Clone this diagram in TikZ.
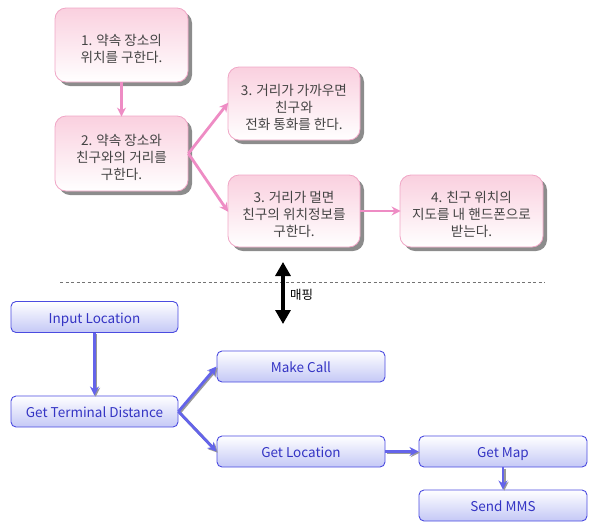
\documentclass[tikz,border=0pt]{standalone}
\usepackage{fontspec}
\setmainfont{Noto Sans CJK KR}
\usetikzlibrary{arrows.meta,shadows}
\definecolor{pinkTop}{HTML}{FAD0DF}
\definecolor{pinkBorder}{HTML}{F0A6C6}
\definecolor{pinkArrow}{HTML}{EE8CC4}
\definecolor{blueBorder}{HTML}{4B4BE0}
\definecolor{blueBottom}{HTML}{C4C8F6}
\definecolor{blueText}{HTML}{3434C4}
\definecolor{blueArrow}{HTML}{6464EA}
\definecolor{textGray}{HTML}{444444}
\newcommand{\toppad}{\rule{0pt}{19pt}}
\tikzset{
  pinkbox/.style={draw=pinkBorder, line width=0.8pt, rounded corners=11pt,
    top color=pinkTop, bottom color=white, align=center, text=textGray,
    font=\fontsize{13.6}{17}\selectfont, inner sep=0pt,
    drop shadow={shadow xshift=4pt, shadow yshift=-4pt, fill=black!45, opacity=1}},
  bluebox/.style={draw=blueBorder, line width=0.9pt, rounded corners=5pt,
    top color=white, bottom color=blueBottom, align=center, text=blueText,
    font=\fontsize{13.5}{15}\selectfont, inner sep=0pt,
    text height=13pt, text depth=1pt,
    minimum height=31pt},
  pinkarrow/.style={draw=pinkArrow, line width=2.8pt,
    -{Stealth[length=9pt,width=9pt]}, shorten >=-1pt},
  bluearrow/.style={draw=blueArrow, line width=2.8pt,
    -{Stealth[length=9pt,width=9pt]},
    preaction={draw=black!40, line width=2.8pt, transform canvas={shift={(1.2pt,-1.2pt)}}}},
}
\begin{document}
\begin{tikzpicture}[x=1pt,y=-1pt]
\useasboundingbox (0,0) rectangle (590,523);
% pink (Korean) diagram
\node[pinkbox, minimum width=133pt, minimum height=74pt] (b1) at (121.5,45) {\toppad 1. 약속 장소의\\위치를 구한다.};
\node[pinkbox, minimum width=133pt, minimum height=75pt] (b2) at (121.5,153.5) {\toppad 2. 약속 장소와\\친구와의 거리를\\구한다.};
\node[pinkbox, minimum width=132pt, minimum height=73pt] (b3a) at (294,103.5) {\toppad 3. 거리가 가까우면\\친구와\\전화 통화를 한다.};
\node[pinkbox, minimum width=132pt, minimum height=72pt] (b3b) at (294,211) {\toppad 3. 거리가 멀면\\친구의 위치정보를\\구한다.};
\node[pinkbox, minimum width=143pt, minimum height=72pt] (b4) at (471.5,211) {\toppad 4. 친구 위치의\\지도를 내 핸드폰으로\\받는다.};
\draw[pinkarrow] (b1.south) -- (b2.north);
\draw[pinkarrow] (b2.east) -- (b3a.west);
\draw[pinkarrow] (b2.east) -- (b3b.west);
\draw[pinkarrow] (b3b.east) -- (b4.west);
% separator
\coordinate (dl) at (60,282);
\coordinate (dr) at (545,282);
\draw[black!55, line width=0.9pt, dash pattern=on 3pt off 2.5pt] (dl) -- (dr);
\coordinate (mt) at (283,262);
\coordinate (mb) at (283,324);
\draw[line width=3.2pt, {Triangle[length=14pt,width=15pt]}-{Triangle[length=14pt,width=15pt]}] (mt) -- (mb);
\node[anchor=west, inner sep=0pt, font=\fontsize{12.5}{14}\selectfont] (map) at (290,295) {매핑};
% blue (English) diagram
\node[bluebox, minimum width=167pt] (in) at (94.5,317) {Input Location};
\node[bluebox, minimum width=167pt] (gtd) at (94.5,411.5) {Get Terminal Distance};
\node[bluebox, minimum width=168pt] (mc) at (301,366.5) {Make Call};
\node[bluebox, minimum width=168pt] (gl) at (301,451.5) {Get Location};
\node[bluebox, minimum width=168pt] (gm) at (503,451.5) {Get Map};
\node[bluebox, minimum width=168pt] (sm) at (503,505.5) {Send MMS};
\draw[bluearrow] (in.south) -- (gtd.north);
\draw[bluearrow] (gtd.east) -- (mc.west);
\draw[bluearrow] (gtd.east) -- (gl.west);
\draw[bluearrow] (gl.east) -- (gm.west);
\draw[bluearrow] (gm.south) -- (sm.north);
\end{tikzpicture}
\end{document}
